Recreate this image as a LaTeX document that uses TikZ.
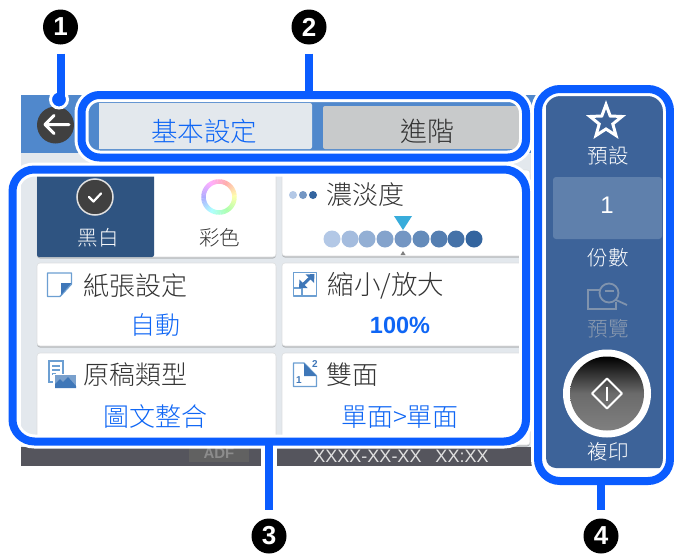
\documentclass[tikz,border=0pt]{standalone}
\usepackage{fontspec}
\setmainfont{Noto Sans CJK TC}[UprightFont=* Light,BoldFont=* Bold]
\newfontfamily\latinf{Liberation Sans}
\newcommand{\fsz}[1]{\fontsize{#1}{#1}\selectfont}
\definecolor{mark}{HTML}{0A5CFF}
\definecolor{hdr}{HTML}{5088CC}
\definecolor{lightbg}{HTML}{E3E8ED}
\definecolor{tabgrey}{HTML}{C8CACB}
\definecolor{navy}{HTML}{2F5481}
\definecolor{panel}{HTML}{3D6399}
\definecolor{panelbox}{HTML}{5F80AC}
\definecolor{foot}{HTML}{55555D}
\definecolor{ink}{HTML}{333333}
\definecolor{val}{HTML}{0F66F5}
\definecolor{iconl}{HTML}{6C9FD2}
\definecolor{icond}{HTML}{3F77B8}
\definecolor{cellline}{HTML}{B4B7BA}
\definecolor{muted}{HTML}{8C9BB0}
\definecolor{dotlo}{HTML}{B3C8E6}
\definecolor{dothi}{HTML}{34659F}
\colorlet{btnlow}{black!50}
\colorlet{btnmid}{black!58}
\pgfdeclareverticalshading{btnshade}{100bp}{color(0bp)=(btnlow);color(25bp)=(btnlow);color(50bp)=(btnmid);color(75bp)=(black);color(100bp)=(black)}
\tikzset{
  badge/.style={circle,fill=black,text=white,minimum size=35pt,inner sep=0pt,outer sep=0pt,font=\latinf\bfseries\fsz{26}},
  outline/.style={draw=mark,line width=8pt,outer sep=0pt,inner sep=0pt,preaction={draw=white,line width=14pt}},
  conn/.style={draw=mark,line width=8pt,shorten <=9pt},
  txt/.style={inner sep=0pt,outer sep=0pt,text=ink},
  valtxt/.style={txt,text=val},
  whitetxt/.style={txt,text=white},
  cell/.style={fill=white,draw=cellline!45,line width=.6pt,rounded corners=3pt,preaction={fill=cellline,transform canvas={yshift=-1.5pt}}},
  icon/.style={draw=iconl,line width=1.4pt,line join=round},
}
\begin{document}
\begin{tikzpicture}[x=1pt,y=-1pt]
\useasboundingbox (0,0) rectangle (674,554);
% screen
\fill[lightbg] (21,153) rectangle (535,447);
\fill[hdr] (21,95) rectangle (536,153);
\fill[foot] (21,447) rectangle (261,466);
\fill[foot] (277,447) rectangle (532,466);
\fill[black!62] (189,447) rectangle (249,462);
\node[txt,text=black!45,font=\latinf\bfseries\fsz{15}] (adf) at (219,453) {ADF};
\node[txt,text=black!12,font=\latinf\fsz{18}] (stamp) at (401,456) {XXXX-XX-XX\hspace{14pt}XX:XX};
% back button
\node[circle,fill=black!75,minimum size=37pt,inner sep=0pt] (back) at (55.5,125) {};
\draw[white,line width=3pt,line cap=round,line join=round] (69,124.5)--(45,124.5) (54,115.5)--(45,124.5)--(54,133.5);
% tabs
\fill[lightbg,rounded corners=2pt] (90,103) rectangle (312,149);
\fill[hdr] (90,103) rectangle (99,149);
\fill[tabgrey,rounded corners=2pt] (323,106) rectangle (519,149);
\node[valtxt,font=\fsz{26.5}] (tab1) at (204,131) {基本設定};
\node[txt,font=\fsz{27}] (tab2) at (427,131) {進階};
% cells
\draw[cell] (37,170) rectangle (276,257);
\fill[navy,rounded corners=2pt] (37,170) rectangle (154,257);
\draw[cell] (282,170) rectangle (530,256);
\draw[cell] (37,263) rectangle (276,346);
\draw[cell] (282,263) rectangle (530,346);
\draw[cell] (37,353) rectangle (276,445);
\draw[cell] (282,353) rectangle (530,445);
% mono / colour
\node[circle,fill=black!75,draw=black!12,line width=1.5pt,minimum size=36pt,inner sep=0pt] (chk) at (95,197) {};
\draw[white,line width=2.2pt,line cap=round,line join=round] (89,197)--(93.5,201.5)--(101,193.5);
\foreach \a in {0,5,...,355}{
  \pgfmathsetmacro{\hu}{mod(330+90-\a+360,360)}
  \definecolor{ringc}{Hsb}{\hu,.32,1}
  \draw[ringc,line width=4.5pt] (219,197) ++(\a:15.5pt) arc[start angle=\a,end angle=\a+6,radius=15.5pt];
}
\node[whitetxt,font=\fsz{20.5}] (mono) at (98,238) {黑白};
\node[txt,font=\fsz{20.5}] (color) at (219.5,238) {彩色};
% density
\fill[dotlo] (293,195) circle (4pt);
\fill[dothi!50!dotlo] (303,195) circle (4pt);
\fill[dothi] (313,195) circle (4pt);
\node[txt,font=\fsz{26}] (dens) at (365,195) {濃淡度};
\foreach \x/\m in {332/0,350/12,367/25,385/37,403/50,421/62,439/75,456/87,474/100}
  \fill[dothi!\m!dotlo] (\x,239) circle (8.5pt);
\fill[hdr!70!cyan] (394,216)--(412,216)--(403,230)--cycle;
\fill[black!50] (400.5,255)--(405.5,255)--(403,251)--cycle;
% paper size
\draw[icon] (47.5,273)--(71.5,273)--(71.5,284)--(60,296.5)--(47.5,296.5)--cycle;
\fill[icond] (71.5,283)--(61,283)--(61,295)--cycle;
\node[txt,font=\fsz{26}] (pap) at (135,286) {紙張設定};
\node[valtxt,font=\fsz{25}] (papv) at (155,325) {自動};
% zoom
\draw[icon] (293.5,272.5) rectangle (316.5,296);
\draw[icon] (293.5,288)--(302,288)--(302,296);
\draw[icond,line width=3pt] (302.5,285)--(311,277);
\fill[icond] (299,288)--(299.5,279.5)--(307.5,288)--cycle;
\fill[icond] (314.5,274)--(305.5,274.5)--(314,283)--cycle;
\node[txt,font=\fsz{26.5}] (zm) at (386,286) {縮小/放大};
\node[valtxt,font=\latinf\bfseries\fsz{23.5}] (zmv) at (400,325) {100\%};
% original type
\draw[iconl,line width=1.3pt,fill=white] (49,361) rectangle (63,382);
\draw[iconl,line width=1.2pt] (52,366)--(60,366) (52,370)--(60,370) (52,374)--(56,374);
\fill[white] (53,374) rectangle (77,389);
\fill[icond!70] (55,375) rectangle (76,388);
\fill[icond] (55,388)--(55,384)--(60,379)--(63,382)--(68,377)--(76,386)--(76,388)--cycle;
\node[txt,font=\fsz{26}] (org) at (135,375) {原稿類型};
\node[valtxt,font=\fsz{26}] (orgv) at (155,417) {圖文整合};
% duplex
\draw[icon] (293.5,363)--(304,363)--(316.5,376)--(316.5,386.5)--(293.5,386.5)--cycle;
\fill[icond] (304,363)--(304,376)--(316.5,376)--cycle;
\node[txt,text=icond,font=\latinf\bfseries\fsz{10}] (d1) at (299,380.5) {1};
\node[txt,text=icond,font=\latinf\bfseries\fsz{10}] (d2) at (315,364) {2};
\node[txt,font=\fsz{26}] (dup) at (352,375) {雙面};
\node[valtxt,font=\fsz{26}] (dupv) at (400,417) {單面>單面};
% right panel
\fill[panel,rounded corners=10pt] (546,96) rectangle (670,468);
\draw[white,line width=3pt,line join=miter] (606,104.5)--(610.2,116)--(622,116.5)--(612.8,124)--(616,135.5)--(606,129)--(596,135.5)--(599.2,124)--(590,116.5)--(601.8,116)--cycle;
\node[whitetxt,font=\fsz{20.5}] (pre) at (608,156) {預設};
\fill[panelbox,rounded corners=3pt] (553,177) rectangle (662,239);
\node[whitetxt,font=\latinf\fsz{24}] (cnt) at (607,205) {1};
\node[whitetxt,font=\fsz{20.5}] (cop) at (608,258) {份數};
\draw[muted!85!panel,line width=1.6pt] (603,290)--(588,290)--(588,309)--(616,309)--(616,302);
\draw[muted!85!panel,line width=1.8pt,fill=panel] (609,293) circle (9.5pt);
\draw[muted!85!panel,line width=1.8pt] (616,300)--(627,305);
\draw[muted!85!panel,line width=1.5pt] (605,291)--(614,291);
\node[txt,text=muted,font=\fsz{20.5}] (prev) at (608,329) {預覽};
\node[circle,fill=white,minimum size=88pt,inner sep=0pt] (btnouter) at (607,393.5) {};
\node[circle,shading=btnshade,minimum size=74pt,inner sep=0pt] (btn) at (607,393.5) {};
\draw[white,line width=2pt,line join=round] (607,378.5)--(622,393.5)--(607,408.5)--(592,393.5)--cycle;
\draw[white,line width=2pt] (607,386.5)--(607,400.5);
\node[whitetxt,font=\fsz{20.5}] (prt) at (608,452) {複印};
% outlines
\node[outline,rounded corners=18pt,minimum width=444.5pt,minimum height=62.5pt] (box2) at (303.75,126.25) {};
\node[outline,rounded corners=22pt,minimum width=513.5pt,minimum height=272pt] (box3) at (269.25,305.5) {};
\node[outline,rounded corners=22pt,minimum width=132pt,minimum height=392pt] (box4) at (604,285) {};
% badges
\node[badge] (b1) at (60.5,27) {1};
\node[badge] (b2) at (309,27) {2};
\node[badge] (b3) at (269,536) {3};
\node[badge] (b4) at (601,536) {4};
% connectors
\node[circle,fill=mark,draw=white,line width=3pt,minimum size=17pt,inner sep=0pt] (dot) at (59,99.5) {};
\draw[conn] (b1) -- (b1 |- dot.center);
\draw[conn] (b2) -- (b2 |- box2.north);
\draw[conn] (b3) -- (b3 |- box3.south);
\draw[conn] (b4) -- (b4 |- box4.south);
\end{tikzpicture}
\end{document}
